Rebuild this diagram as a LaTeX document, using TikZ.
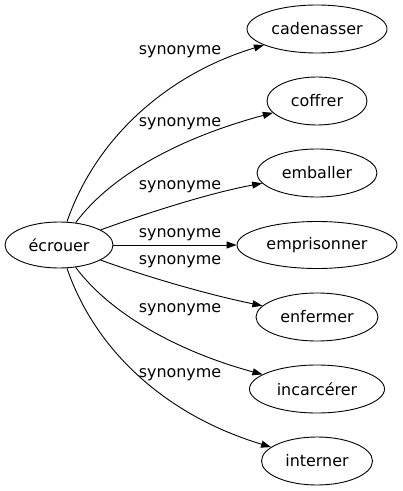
\documentclass[tikz,border=0pt]{standalone}
\usepackage{fontspec}
\setmainfont{DejaVu Sans}
\usetikzlibrary{shapes.geometric,arrows.meta}
\begin{document}
\begin{tikzpicture}[x=1bp,y=-1bp,
  word/.style={draw, ellipse, inner sep=0pt, line width=0.9bp, font=\fontsize{16}{19}\selectfont},
  rel/.style={line width=0.9bp, -{Triangle[length=10bp,width=7bp]}},
  lab/.style={font=\fontsize{16}{19}\selectfont, inner sep=0pt}]
\useasboundingbox (0,0) rectangle (402,491);
\node[word, minimum width=108bp, minimum height=46bp] (e) at (59,245) {écrouer};
\node[word, minimum width=140bp, minimum height=48bp] (c1) at (317,29) {cadenasser};
\node[word, minimum width=100bp, minimum height=48bp] (c2) at (317,101) {coffrer};
\node[word, minimum width=120bp, minimum height=48bp] (c3) at (317,173) {emballer};
\node[word, minimum width=160bp, minimum height=47bp] (c4) at (317,245) {emprisonner};
\node[word, minimum width=122bp, minimum height=48bp] (c5) at (317,317) {enfermer};
\node[word, minimum width=135bp, minimum height=48bp] (c6) at (317,389) {incarcérer};
\node[word, minimum width=111bp, minimum height=48bp] (c7) at (317,461) {interner};
\draw[rel] (e) .. controls (95,140) and (165,75) .. (c1);
\draw[rel] (e) .. controls (115,170) and (190,135) .. (c2);
\draw[rel] (e) .. controls (150,212) and (210,193) .. (c3);
\draw[rel] (e) -- (c4);
\draw[rel] (e) .. controls (150,278) and (210,295) .. (c5);
\draw[rel] (e) .. controls (115,320) and (190,355) .. (c6);
\draw[rel] (e) .. controls (95,350) and (165,415) .. (c7);
\node[lab] (l1) at (180,52) {synonyme};
\node[lab] (l2) at (180,124) {synonyme};
\node[lab] (l3) at (180,187) {synonyme};
\node[lab] (l4) at (180,235) {synonyme};
\node[lab] (l5) at (180,262) {synonyme};
\node[lab] (l6) at (180,310) {synonyme};
\node[lab] (l7) at (180,375) {synonyme};
\end{tikzpicture}
\end{document}
